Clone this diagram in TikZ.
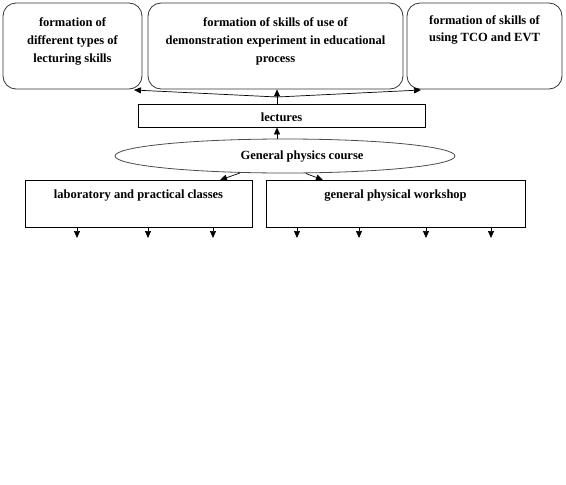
\documentclass[tikz,border=0pt]{standalone}
\usepackage{fontspec}
\setmainfont{Liberation Serif}
\usetikzlibrary{arrows.meta,shapes.geometric}
\begin{document}
\begin{tikzpicture}[x=1pt,y=-1pt,
  rbox/.style={draw=black!80, line width=0.8pt, rounded corners=13pt, minimum height=86, inner sep=0},
  sbox/.style={draw=black, line width=0.8pt, inner sep=0},
  txt/.style={font=\bfseries\fontsize{12.5}{18}\selectfont, align=center, inner sep=0, anchor=north},
  arr/.style={-{Triangle[length=7pt,width=6pt]}, line width=0.7pt}]
\useasboundingbox (0,0) rectangle (566,485);
\node[rbox, minimum width=139] (b1) at (72.5,46) {};
\node[rbox, minimum width=255] (b2) at (275.5,46) {};
\node[rbox, minimum width=155] (b3) at (484.5,46) {};
\node[txt] (t1) at (72.5,17) {formation of\\different types of\\lecturing skills};
\node[txt] (t2) at (275.5,17) {formation of skills of use of\\demonstration experiment in educational\\process};
\node[txt, font=\bfseries\fontsize{12.5}{17}\selectfont] (t3) at (484.5,15) {formation of skills of\\using TCO and EVT};
\node[sbox, minimum width=287, minimum height=23] (lec) at (281.5,115.5) {};
\node[txt, anchor=center] (tl) at (281.5,117) {lectures};
\node[draw=black!70, line width=0.8pt, ellipse, minimum width=340, minimum height=34, inner sep=0] (ell) at (285,156) {};
\node[txt, anchor=center] (te) at (302,157) {General physics course};
\node[sbox, minimum width=227, minimum height=47] (lab) at (138.5,203.5) {};
\node[txt] (tlab) at (138.5,190) {laboratory and practical classes};
\node[sbox, minimum width=259, minimum height=47] (ws) at (395.5,203.5) {};
\node[txt] (tws) at (395.5,190) {general physical workshop};
% top arrows
\coordinate (J) at (277,97);
\coordinate (e1) at (134,90);
\coordinate (e3) at (421,90);
\draw[arr] (lec.north -| J) -- (b2.south -| J);
\draw[arr] (J) -- (e1);
\draw[arr] (J) -- (e3);
\draw[arr] (ell.north -| J) -- (lec.south -| J);
\coordinate (s1) at (240,173);
\coordinate (d1) at (220,180);
\coordinate (s2) at (306,173.5);
\coordinate (d2) at (323,180);
\draw[arr] (s1) -- (d1);
\draw[arr] (s2) -- (d2);
\foreach \x [count=\i] in {77,148,213} {
  \coordinate (la\i) at (\x,238);
  \draw[arr] (lab.south -| la\i) -- (la\i);
}
\foreach \x [count=\i] in {297,359,426,491} {
  \coordinate (wa\i) at (\x,238);
  \draw[arr] (ws.south -| wa\i) -- (wa\i);
}
\end{tikzpicture}
\end{document}
